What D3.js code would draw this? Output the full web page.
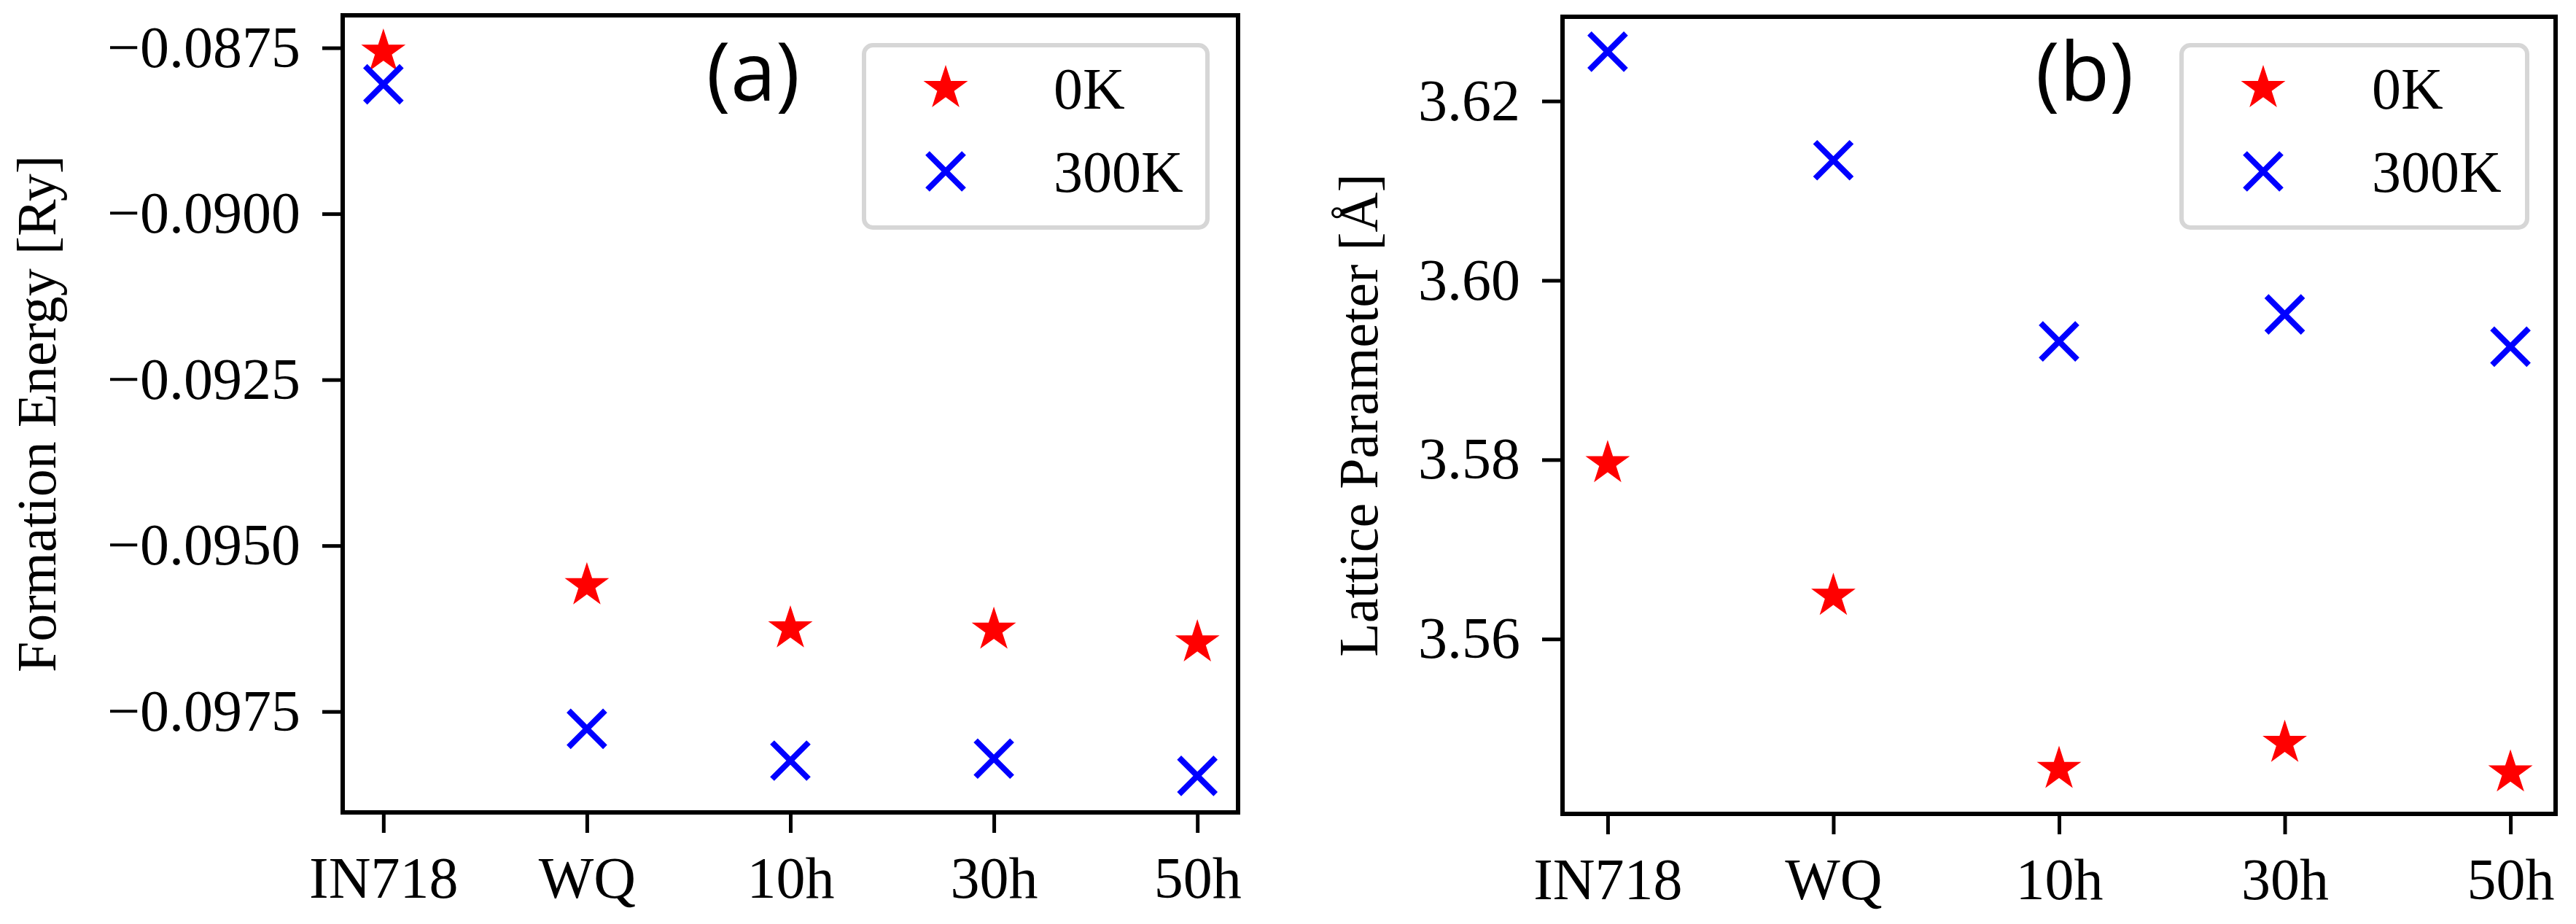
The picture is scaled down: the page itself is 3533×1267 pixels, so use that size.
<!DOCTYPE html>
<html>
<head>
<meta charset="utf-8">
<script src="https://cdn.jsdelivr.net/npm/d3@7"></script>
<style>
  body { margin: 0; background: #fff; }
  svg text { font-family: "Liberation Serif", "DejaVu Serif", serif; }
</style>
</head>
<body>
<svg id="chart" width="3533" height="1267"></svg>
<script>
var categories = ['IN718', 'WQ', '10h', '30h', '50h'];

// panel (a): formation energy [Ry]
var energy0K = [-0.08756, -0.09560, -0.09625, -0.09627, -0.09646];
var energy300K = [-0.08805, -0.09776, -0.09824, -0.09821, -0.09847];
var energyTicks = [-0.0875, -0.0900, -0.0925, -0.0950, -0.0975];

// panel (b): lattice parameter [Å]
var lattice0K = [3.5796, 3.5648, 3.5455, 3.5484, 3.5451];
var lattice300K = [3.6255, 3.6134, 3.5932, 3.5962, 3.5926];
var latticeTicks = [3.56, 3.58, 3.60, 3.62];

var svg = d3.select('#chart');
var star = d3.symbol().type(d3.symbolStar).size(1150);

function panel(opt) {
    var x = d3.scaleLinear().domain([-0.2, 4.2]).range([opt.left, opt.right]);
    var y = d3.scaleLinear().domain(opt.domain).range([opt.bottom, opt.top]);
    var g = svg.append('g');

    var yAxis = d3.axisLeft(y).tickValues(opt.ticks).tickFormat(opt.fmt)
        .tickSize(28).tickPadding(30);
    var ya = g.append('g').attr('transform', 'translate(' + opt.left + ',0)').call(yAxis);
    var xAxis = d3.axisBottom(x).tickValues(d3.range(categories.length))
        .tickFormat(function (i) { return categories[i]; }).tickSize(28).tickPadding(32);
    var xa = g.append('g').attr('transform', 'translate(0,' + opt.bottom + ')').call(xAxis);
    [ya, xa].forEach(function (a) {
        a.select('.domain').remove();
        a.selectAll('line').attr('stroke', '#000').attr('stroke-width', 5);
        a.selectAll('text').attr('font-size', 80).attr('fill', '#000');
    });
    xa.selectAll('text').attr('dy', '0.71em');

    g.append('rect').attr('x', opt.left).attr('y', opt.top)
        .attr('width', opt.right - opt.left).attr('height', opt.bottom - opt.top)
        .attr('fill', 'none').attr('stroke', '#000').attr('stroke-width', 6);

    g.append('text')
        .attr('transform', 'translate(' + opt.labelX + ',' + (opt.top + opt.bottom) / 2 + ') rotate(-90)')
        .attr('text-anchor', 'middle').attr('dominant-baseline', 'central')
        .attr('font-size', 76).text(opt.label);

    g.selectAll('.s0').data(opt.s0).enter().append('path')
        .attr('d', star).attr('fill', 'red')
        .attr('transform', function (d, i) { return 'translate(' + x(i) + ',' + y(d) + ')'; });

    g.selectAll('.s1').data(opt.s1).enter().append('path')
        .attr('d', 'M-25,-25L25,25M-25,25L25,-25')
        .attr('stroke', 'blue').attr('stroke-width', 8).attr('fill', 'none')
        .attr('transform', function (d, i) { return 'translate(' + x(i) + ',' + y(d) + ')'; });

    // panel tag
    g.append('text').attr('x', opt.tagX).attr('y', 138).attr('text-anchor', 'middle')
        .style('font-family', '"Open Sans", "Liberation Sans", sans-serif')
        .attr('font-size', 112).text(opt.tag);

    // legend
    var L = opt.legend;
    g.append('rect').attr('x', L.x).attr('y', 62).attr('width', L.w).attr('height', 250)
        .attr('rx', 12).attr('fill', '#fff').attr('stroke', '#d6d6d6').attr('stroke-width', 6);
    g.append('path').attr('d', star).attr('fill', 'red')
        .attr('transform', 'translate(' + L.mx + ',121)');
    g.append('path').attr('d', 'M-25,-25L25,25M-25,25L25,-25')
        .attr('stroke', 'blue').attr('stroke-width', 8)
        .attr('transform', 'translate(' + L.mx + ',235)');
    g.append('text').attr('x', L.tx).attr('y', 121).attr('dy', '0.35em').attr('font-size', 80).text('0K');
    g.append('text').attr('x', L.tx).attr('y', 235).attr('dy', '0.35em').attr('font-size', 80).text('300K');
}

panel({
    left: 470, right: 1698, top: 21, bottom: 1114,
    domain: [-0.09902, -0.08701], ticks: energyTicks,
    fmt: function (d) { return d3.format('.4f')(d).replace('-', '\u2212'); },
    s0: energy0K, s1: energy300K,
    label: 'Formation Energy [Ry]', labelX: 50,
    tag: '(a)', tagX: 1033,
    legend: { x: 1185, w: 471, mx: 1297, tx: 1445 }
});

panel({
    left: 2143, right: 3505, top: 23, bottom: 1116,
    domain: [3.5405, 3.6294], ticks: latticeTicks,
    fmt: d3.format('.2f'),
    s0: lattice0K, s1: lattice300K,
    label: 'Lattice Parameter [Å]', labelX: 1863,
    tag: '(b)', tagX: 2859,
    legend: { x: 2992, w: 474, mx: 3104, tx: 3253 }
});
</script>
</body>
</html>
